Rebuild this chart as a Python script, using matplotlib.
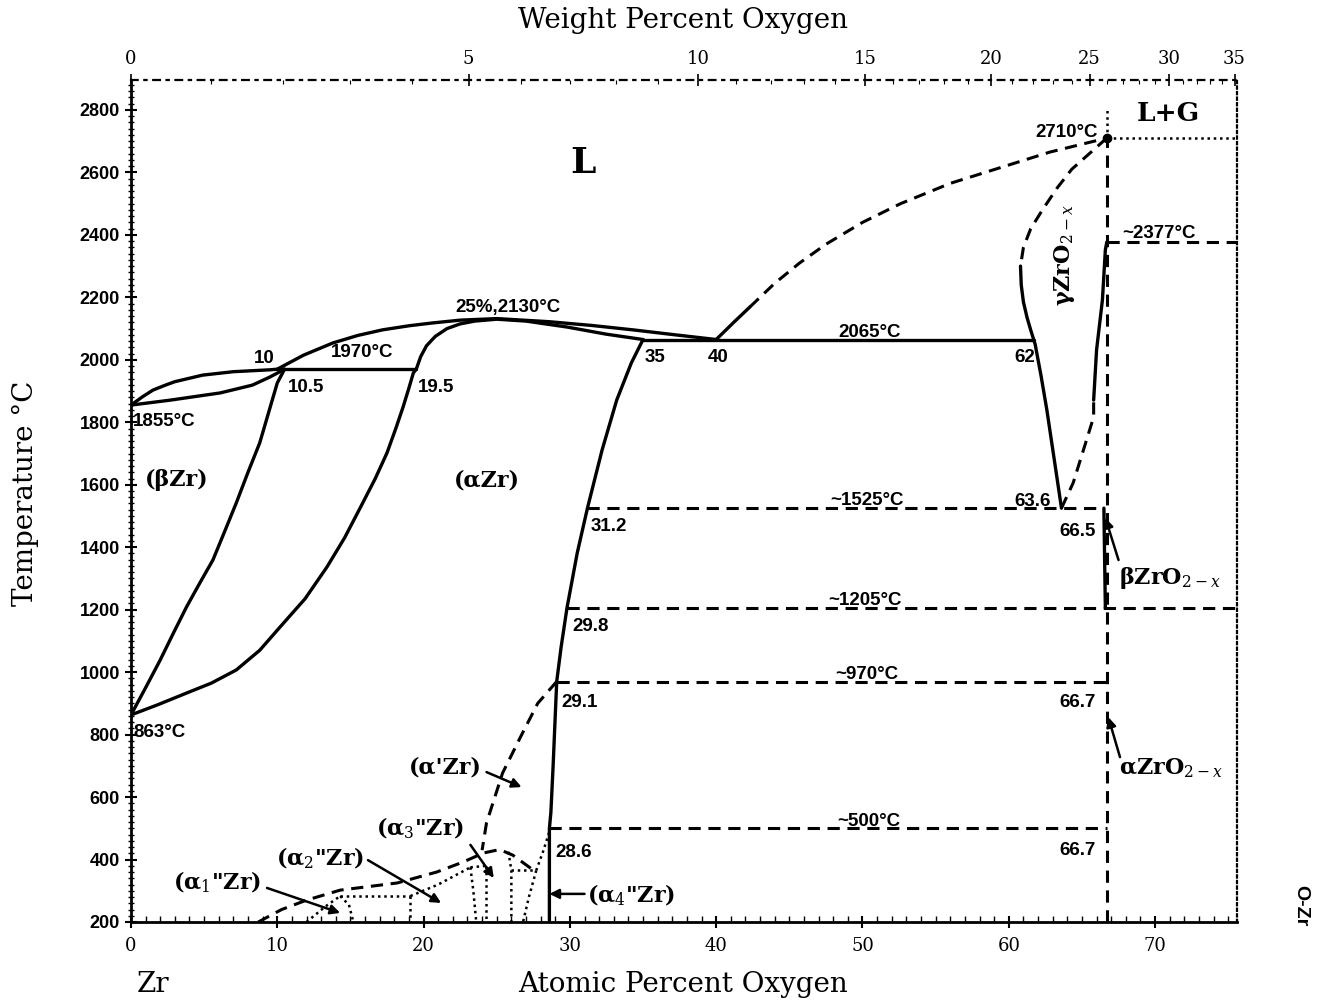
import numpy as np
import matplotlib
matplotlib.use("Agg")
import matplotlib.pyplot as plt
from matplotlib.ticker import MultipleLocator, FixedLocator

plt.rcParams['mathtext.fontset'] = 'dejavuserif'

# ---------------- data (atomic % O, temperature degC) ----------------
beta_liq_x = [0, 0.8, 1.5, 2.3, 3.0, 4.9, 7.0, 9.5, 10.0]
beta_liq_T = [1855, 1882, 1903, 1918, 1930, 1951, 1962, 1968, 1970]
beta_sol_x = [0, 2.7, 6.1, 8.3, 9.5, 10.5]
beta_sol_T = [1855, 1871, 1894, 1919, 1945, 1970]
beta_transus_x = [0, 1.0, 2.0, 2.9, 3.8, 4.7, 5.6, 6.4, 7.2, 8.0, 8.8, 9.4, 10.0, 10.5]
beta_transus_T = [863, 950, 1039, 1125, 1209, 1285, 1359, 1450, 1542, 1640, 1734, 1830, 1926, 1970]
alpha_bnd_x = [0, 1.8, 3.8, 5.5, 7.2, 8.8, 10.2, 11.9, 13.4, 14.6, 15.7, 16.7, 17.5,
               18.1, 18.6, 19.0, 19.3, 19.5]
alpha_bnd_T = [863, 895, 933, 965, 1007, 1070, 1145, 1235, 1337, 1430, 1529, 1620, 1702,
               1780, 1849, 1910, 1958, 1970]
peri_x = [10, 19.5]
peri_T = [1970, 1970]
alpha_liq_x = [10, 11.8, 13.8, 15.5, 17.2, 19.0, 20.6, 22.5, 25, 28.6, 31.5, 34.3, 37.2, 40]
alpha_liq_T = [1970, 2015, 2054, 2078, 2096, 2109, 2118, 2127, 2132, 2122, 2110, 2096, 2080, 2065]
alpha_sol_x = [19.5, 19.8, 20.2, 20.8, 21.6, 22.5, 23.5, 25, 27, 29.8, 32.5, 35]
alpha_sol_T = [1970, 2010, 2045, 2075, 2100, 2115, 2124, 2130, 2124, 2105, 2082, 2065]
eut_x = [35, 61.7]
eut_T = [2065, 2065]
alpha_solvus_x = [35, 34.2, 33.2, 32.2, 31.2, 30.5, 29.8, 29.4, 29.1, 28.85, 28.7, 28.6, 28.6]
alpha_solvus_T = [2065, 1990, 1871, 1711, 1525, 1381, 1205, 1080, 970, 696, 550, 500, 200]
liq_oxide_solid_x = [40, 41.2, 42.3]
liq_oxide_solid_T = [2065, 2120, 2169]
liq_oxide_dash_x = [42.3, 44.0, 45.7, 47.5, 50.0, 52.6, 56.0, 59.4, 62.8, 66.7]
liq_oxide_dash_T = [2169, 2245, 2310, 2370, 2440, 2500, 2565, 2615, 2665, 2710]
gamma_left_dash_x = [66.7, 65.5, 64.3, 63.3, 62.3, 61.5, 61.0, 60.8]
gamma_left_dash_T = [2710, 2660, 2610, 2550, 2480, 2420, 2360, 2300]
gamma_left_solid_x = [60.8, 60.85, 61.0, 61.25, 61.5, 61.8, 62.2, 62.6, 62.95, 63.3, 63.6]
gamma_left_solid_T = [2300, 2240, 2185, 2135, 2095, 2050, 1950, 1840, 1730, 1620, 1525]
gamma_right_solid_x = [65.8, 66.0, 66.4, 66.6, 66.7]
gamma_right_solid_T = [1871, 2032, 2192, 2352, 2377]
gamma_right_dash_x = [63.6, 64.4, 65.1, 65.8, 65.8]
gamma_right_dash_T = [1525, 1606, 1711, 1817, 1871]
beta_oxide_x = [66.5, 66.55, 66.6]
beta_oxide_T = [1525, 1360, 1205]
oxide_x = [66.7, 66.7]
oxide_T = [200, 2710]
gas_vert_x = [66.7, 66.7]
gas_vert_T = [2710, 2800]
X_RIGHT = 75.6
gas_horiz_x = [66.7, X_RIGHT]
gas_horiz_T = [2710, 2710]
iso_2377_x = [66.7, X_RIGHT]
iso_2377_T = [2377, 2377]
iso_1525_x = [31.2, 66.5]
iso_1525_T = [1525, 1525]
iso_1205_x = [29.8, X_RIGHT]
iso_1205_T = [1205, 1205]
iso_970_x = [29.1, 66.7]
iso_970_T = [970, 970]
iso_500_x = [28.6, 66.7]
iso_500_T = [500, 500]
alpha_prime_x = [29.1, 27.8, 26.6, 25.4, 24.3, 24.0]
alpha_prime_T = [970, 900, 790, 677, 517, 430]
order_dome_x = [8.7, 10.3, 12.0, 14.3, 18.2, 20.9, 22.7, 24.1, 25.2, 26.1, 27.5]
order_dome_T = [200, 240, 270, 302, 325, 360, 392, 421, 432, 414, 366]
# dotted ordered-phase boundaries
d1_x = [12.0, 13.3, 14.3]; d1_T = [200, 250, 283]
d2_x = [14.3, 14.9, 15.2]; d2_T = [283, 255, 200]
d3_x = [14.3, 19.1]; d3_T = [283, 283]
d4_x = [19.1, 19.1]; d4_T = [283, 200]
d5_x = [19.1, 21.0, 23.2]; d5_T = [283, 320, 375]
d6_x = [23.2, 24.3]; d6_T = [375, 380]
d7_x = [23.2, 23.4, 23.6]; d7_T = [375, 300, 200]
d8_x = [24.3, 24.3]; d8_T = [380, 200]
d9_x = [25.8, 26.0, 26.0]; d9_T = [425, 365, 200]
d10_x = [26.0, 27.7]; d10_T = [365, 365]
d11_x = [27.7, 27.2, 26.8]; d11_T = [365, 280, 200]
d12_x = [27.7, 28.2, 28.6]; d12_T = [365, 430, 490]

wt_ticks = [0, 5, 10, 15, 20, 25, 30, 35]

# ---------------- figure ----------------
fig = plt.figure(figsize=(13.31, 10.06), dpi=100)
ax = fig.add_axes([0.0984, 0.0835, 0.8310, 0.837])
ax.set_xlim(0, X_RIGHT)
ax.set_ylim(200, 2896)

SOL = dict(color='black', lw=2.4, solid_capstyle='round', solid_joinstyle='round')
DASH = dict(color='black', lw=2.2, linestyle=(0, (4, 2.5)))
DOT = dict(color='black', lw=1.8, linestyle=(0, (1, 1.5)))

for xs, ts in [(beta_liq_x, beta_liq_T), (beta_sol_x, beta_sol_T),
               (beta_transus_x, beta_transus_T), (alpha_bnd_x, alpha_bnd_T),
               (peri_x, peri_T), (alpha_liq_x, alpha_liq_T),
               (alpha_sol_x, alpha_sol_T), (eut_x, eut_T),
               (alpha_solvus_x, alpha_solvus_T),
               (liq_oxide_solid_x, liq_oxide_solid_T),
               (gamma_left_solid_x, gamma_left_solid_T),
               (gamma_right_solid_x, gamma_right_solid_T),
               (beta_oxide_x, beta_oxide_T)]:
    ax.plot(xs, ts, **SOL)

for xs, ts in [(liq_oxide_dash_x, liq_oxide_dash_T),
               (gamma_left_dash_x, gamma_left_dash_T),
               (gamma_right_dash_x, gamma_right_dash_T),
               (oxide_x, oxide_T), (iso_2377_x, iso_2377_T),
               (iso_1525_x, iso_1525_T), (iso_1205_x, iso_1205_T),
               (iso_970_x, iso_970_T), (iso_500_x, iso_500_T),
               (alpha_prime_x, alpha_prime_T), (order_dome_x, order_dome_T)]:
    ax.plot(xs, ts, **DASH)

for xs, ts in [(gas_vert_x, gas_vert_T), (gas_horiz_x, gas_horiz_T),
               (d1_x, d1_T), (d2_x, d2_T), (d3_x, d3_T), (d4_x, d4_T),
               (d5_x, d5_T), (d6_x, d6_T), (d7_x, d7_T), (d8_x, d8_T),
               (d9_x, d9_T), (d10_x, d10_T), (d11_x, d11_T), (d12_x, d12_T)]:
    ax.plot(xs, ts, **DOT)

ax.plot([66.7], [2710], 'o', color='black', ms=6)

# ---------------- text ----------------
NUM = dict(fontfamily='Liberation Sans', fontweight='bold', fontsize=13.5, color='black')
PH = dict(fontfamily='DejaVu Serif', fontweight='bold', fontsize=16, color='black')

ax.text(30.9, 2630, 'L', ha='center', va='center', fontfamily='DejaVu Serif',
        fontweight='bold', fontsize=26)
ax.text(70.9, 2790, 'L+G', ha='center', va='center', fontfamily='DejaVu Serif',
        fontweight='bold', fontsize=19)
ax.text(66.1, 2727, '2710°C', ha='right', va='center', **NUM)
ax.text(70.3, 2405, '~2377°C', ha='center', va='center', **NUM)
ax.text(50.5, 2089, '2065°C', ha='center', va='center', **NUM)
ax.text(25.8, 2166, '25%,2130°C', ha='center', va='center', **NUM)
ax.text(15.8, 2025, '1970°C', ha='center', va='center', **NUM)
ax.text(9.1, 2005, '10', ha='center', va='center', **NUM)
ax.text(10.7, 1910, '10.5', ha='left', va='center', **NUM)
ax.text(19.6, 1910, '19.5', ha='left', va='center', **NUM)
ax.text(35.1, 2006, '35', ha='left', va='center', **NUM)
ax.text(39.4, 2006, '40', ha='left', va='center', **NUM)
ax.text(61.1, 2006, '62', ha='center', va='center', **NUM)
ax.text(0.15, 1804, '1855°C', ha='left', va='center', **NUM)
ax.text(50.3, 1551, '~1525°C', ha='center', va='center', **NUM)
ax.text(61.6, 1545, '63.6', ha='center', va='center', **NUM)
ax.text(31.4, 1465, '31.2', ha='left', va='center', **NUM)
ax.text(64.7, 1449, '66.5', ha='center', va='center', **NUM)
ax.text(50.2, 1228, '~1205°C', ha='center', va='center', **NUM)
ax.text(30.2, 1145, '29.8', ha='left', va='center', **NUM)
ax.text(50.3, 993, '~970°C', ha='center', va='center', **NUM)
ax.text(29.4, 904, '29.1', ha='left', va='center', **NUM)
ax.text(64.7, 904, '66.7', ha='center', va='center', **NUM)
ax.text(0.15, 808, '863°C', ha='left', va='center', **NUM)
ax.text(50.4, 522, '~500°C', ha='center', va='center', **NUM)
ax.text(29.0, 421, '28.6', ha='left', va='center', **NUM)
ax.text(64.7, 430, '66.7', ha='center', va='center', **NUM)

ax.text(3.1, 1615, '(βZr)', ha='center', va='center', **PH)
ax.text(24.3, 1615, '(αZr)', ha='center', va='center', **PH)
ax.text(63.8, 2336, r'γZrO$_{2-x}$', ha='center', va='center', rotation=90, **PH)
ax.text(67.5, 1301, r'βZrO$_{2-x}$', ha='left', va='center', **PH)
ax.text(67.5, 693, r'αZrO$_{2-x}$', ha='left', va='center', **PH)

ARW = dict(arrowstyle='-|>', color='black', lw=1.8, mutation_scale=14, shrinkA=0, shrinkB=0)
ax.annotate('', xy=(66.6, 1494), xytext=(67.5, 1359), arrowprops=ARW)
ax.annotate('', xy=(66.8, 856), xytext=(67.6, 728), arrowprops=ARW)
ax.text(5.9, 328, '(α$_1$"Zr)', ha='center', va='center', **PH)
ax.annotate('', xy=(14.3, 229), xytext=(9.3, 309), arrowprops=ARW)
ax.text(12.9, 405, '(α$_2$"Zr)', ha='center', va='center', **PH)
ax.annotate('', xy=(21.2, 261), xytext=(16.2, 398), arrowprops=ARW)
ax.text(19.75, 501, '(α$_3$"Zr)', ha='center', va='center', **PH)
ax.annotate('', xy=(24.8, 341), xytext=(23.2, 447), arrowprops=ARW)
ax.text(21.5, 696, "(α'Zr)", ha='center', va='center', **PH)
ax.annotate('', xy=(26.7, 632), xytext=(24.3, 680), arrowprops=ARW)
ax.text(31.2, 286, '(α$_4$"Zr)', ha='left', va='center', **PH)
ax.annotate('', xy=(28.6, 290), xytext=(31.0, 290), arrowprops=ARW)

# ---------------- axes ----------------
ax.xaxis.set_major_locator(MultipleLocator(10))
ax.xaxis.set_minor_locator(MultipleLocator(1))
ax.yaxis.set_major_locator(MultipleLocator(200))
ax.yaxis.set_minor_locator(MultipleLocator(20))
ax.tick_params(axis='x', which='major', direction='inout', length=9, width=1.5, top=False)
ax.tick_params(axis='x', which='minor', direction='in', length=4, width=1.0, top=False)
ax.tick_params(axis='y', which='major', direction='inout', length=9, width=1.5)
ax.tick_params(axis='y', which='minor', direction='inout', length=5, width=1.0)
ax.tick_params(axis='y', which='both', right=False)
for lab in ax.get_xticklabels():
    lab.set_fontfamily('DejaVu Serif')
    lab.set_fontsize(13)
for lab in ax.get_yticklabels():
    lab.set_fontfamily('Liberation Sans')
    lab.set_fontweight('bold')
    lab.set_fontsize(13)
ax.tick_params(axis='x', pad=6)

for s in ['left', 'bottom']:
    ax.spines[s].set_linewidth(2.0)
ax.spines['right'].set_linestyle((0, (1, 1.5)))
ax.spines['right'].set_linewidth(1.6)
ax.spines['top'].set_visible(False)


def at2wt(a):
    a = np.asarray(a, dtype=float)
    return 16.0 * a / (16.0 * a + 91.224 * (100.0 - a)) * 100.0


def wt2at(w):
    w = np.asarray(w, dtype=float)
    return (w / 16.0) / ((w / 16.0) + (100.0 - w) / 91.224) * 100.0


sec = ax.secondary_xaxis('top', functions=(at2wt, wt2at))
sec.xaxis.set_major_locator(FixedLocator(wt_ticks))
sec.xaxis.set_minor_locator(FixedLocator(list(range(0, 36))))
sec.tick_params(which='major', direction='inout', length=9, width=1.2, pad=4)
sec.tick_params(which='minor', direction='in', length=3, width=0.8)
sec.spines['top'].set_linestyle((0, (3, 3, 1, 3)))
sec.spines['top'].set_linewidth(1.6)
for lab in sec.get_xticklabels():
    lab.set_fontfamily('DejaVu Serif')
    lab.set_fontsize(13)

fig.text(0.513, 0.021, 'Atomic Percent Oxygen', ha='center', va='center',
         fontfamily='DejaVu Serif', fontsize=20)
fig.text(0.513, 0.980, 'Weight Percent Oxygen', ha='center', va='center',
         fontfamily='DejaVu Serif', fontsize=20)
fig.text(0.019, 0.51, 'Temperature °C', ha='center', va='center', rotation=90,
         fontfamily='DejaVu Serif', fontsize=20)
fig.text(0.115, 0.021, 'Zr', ha='center', va='center',
         fontfamily='DejaVu Serif', fontsize=20)
fig.text(0.977, 0.10, 'O-Zr', ha='center', va='center', rotation=270,
         fontfamily='Liberation Sans', fontweight='bold', fontsize=14)

fig.savefig('out.png', dpi=100)
